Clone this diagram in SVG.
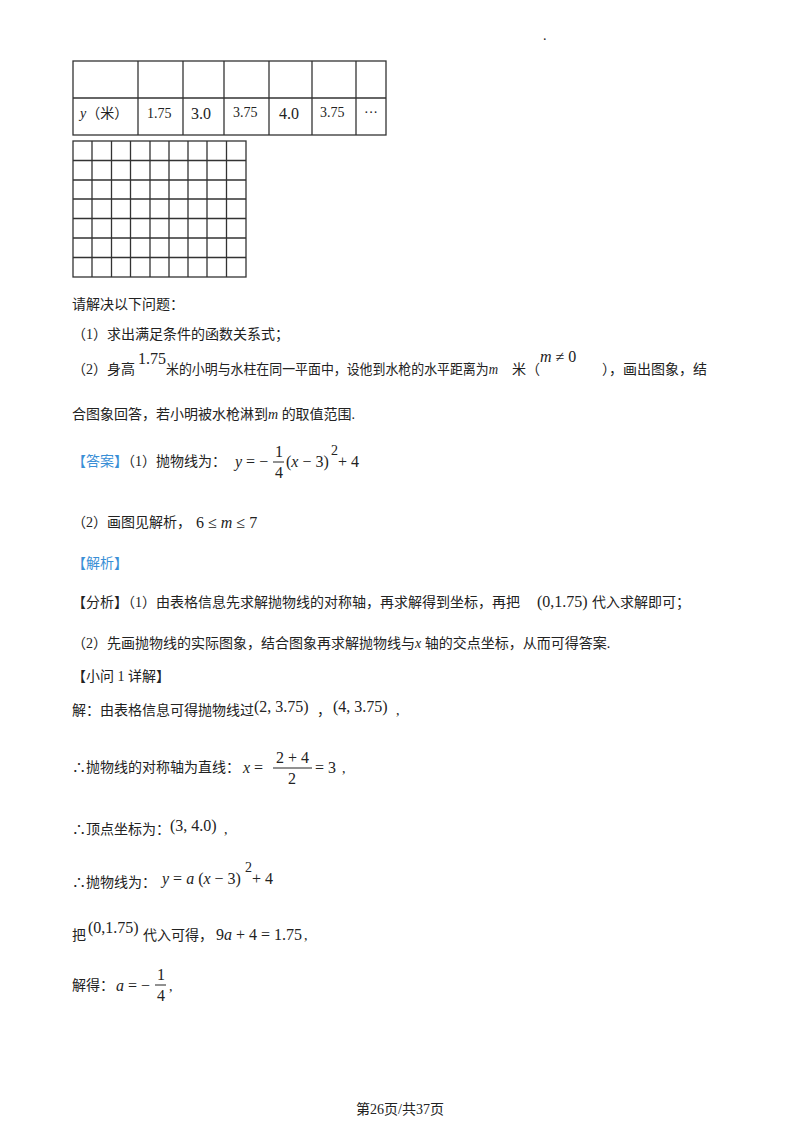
<svg xmlns="http://www.w3.org/2000/svg" width="800" height="1132" viewBox="0 0 800 1132">
<style>
.t{font-family:"Liberation Serif","Noto Sans CJK SC",serif;font-size:14px;fill:#222}
.m{font-family:"Liberation Serif",serif;font-size:16px;fill:#222}
.i{font-style:italic}
.b{fill:#3a8fd6}
.l{stroke:#333;stroke-width:1.3;fill:none}
</style>
<rect width="800" height="1132" fill="#fff"/>
<text x="543" y="40" class="t" font-size="8">.</text>
<g id="table" class="l">
<rect x="73" y="61" width="313" height="74"/>
<line x1="73" y1="98" x2="386" y2="98"/>
<line x1="138" y1="61" x2="138" y2="135"/>
<line x1="183" y1="61" x2="183" y2="135"/>
<line x1="224" y1="61" x2="224" y2="135"/>
<line x1="269" y1="61" x2="269" y2="135"/>
<line x1="312" y1="61" x2="312" y2="135"/>
<line x1="356" y1="61" x2="356" y2="135"/>
</g>
<text x="80" y="118" class="t"><tspan class="i">y</tspan>（米）</text>
<text x="147" y="118" class="t">1.75</text>
<text x="191" y="119" class="m">3.0</text>
<text x="233" y="117" class="t" font-size="13">3.75</text>
<text x="279" y="119" class="m">4.0</text>
<text x="320" y="117" class="t" font-size="13">3.75</text>
<text x="364" y="117" class="t">···</text>
<g id="grid" class="l">
<rect x="73" y="141" width="173" height="136"/>
<path d="M92 141V277M111.5 141V277M130.5 141V277M150 141V277M169 141V277M188 141V277M207 141V277M226.5 141V277"/>
<path d="M73 160.5H246M73 180H246M73 199H246M73 218.5H246M73 238H246M73 257.5H246"/>
</g>
<text x="72" y="309" class="t">请解决以下问题：</text>
<text x="72" y="339" class="t">（1）求出满足条件的函数关系式；</text>
<text x="72" y="374" class="t">（2）身高</text>
<text x="138" y="364" class="m">1.75</text>
<text x="166" y="374" class="t" textLength="332" lengthAdjust="spacingAndGlyphs">米的小明与水柱在同一平面中，设他到水枪的水平距离为<tspan class="i">m</tspan></text>
<text x="512" y="374" class="t">米（</text>
<text x="540" y="362" class="m"><tspan class="i">m</tspan> ≠ 0</text>
<text x="602" y="374" class="t">），画出图象，结</text>
<text x="72" y="419" class="t">合图象回答，若小明被水枪淋到<tspan class="i">m</tspan> 的取值范围.</text>
<text x="72" y="466" class="t"><tspan class="b">【答案】</tspan>（1）抛物线为：</text>
<text x="235" y="467" class="m"><tspan class="i">y</tspan> = −</text>
<text x="275" y="457" class="m">1</text>
<line x1="273" y1="462" x2="284" y2="462" stroke="#222"/>
<text x="275" y="478" class="m">4</text>
<text x="286" y="467" class="m">(<tspan class="i">x</tspan> − 3)</text>
<text x="331" y="455" class="t" font-size="9">2</text>
<text x="338" y="467" class="m">+ 4</text>
<text x="72" y="527" class="t">（2）画图见解析，</text>
<text x="196" y="528" class="m">6 ≤ <tspan class="i">m</tspan> ≤ 7</text>
<text x="72" y="568" class="t b">【解析】</text>
<text x="72" y="607" class="t">【分析】（1）由表格信息先求解抛物线的对称轴，再求解得到坐标，再把</text>
<text x="537" y="607" class="m">(0,1.75)</text>
<text x="592" y="607" class="t">代入求解即可；</text>
<text x="72" y="648" class="t">（2）先画抛物线的实际图象，结合图象再求解抛物线与<tspan class="i">x</tspan> 轴的交点坐标，从而可得答案.</text>
<text x="72" y="681" class="t">【小问 1 详解】</text>
<text x="72" y="715" class="t">解：由表格信息可得抛物线过</text>
<text x="254" y="712" class="m">(2, 3.75)</text>
<text x="317" y="715" class="t">，</text>
<text x="333" y="712" class="m">(4, 3.75)</text>
<text x="396" y="715" class="t">,</text>
<text x="72" y="772" class="t">∴抛物线的对称轴为直线：</text>
<text x="243" y="773" class="m"><tspan class="i">x</tspan> =</text>
<text x="276" y="763" class="m">2 + 4</text>
<line x1="273" y1="768" x2="312" y2="768" stroke="#222"/>
<text x="288" y="784" class="m">2</text>
<text x="315" y="773" class="m">= 3</text>
<text x="342" y="773" class="t">,</text>
<text x="72" y="834" class="t">∴顶点坐标为：</text>
<text x="170" y="831" class="m">(3, 4.0)</text>
<text x="224" y="834" class="t">,</text>
<text x="72" y="887" class="t">∴抛物线为：</text>
<text x="162" y="884" class="m"><tspan class="i">y</tspan> = <tspan class="i">a</tspan> (<tspan class="i">x</tspan> − 3)</text>
<text x="245" y="872" class="t" font-size="9">2</text>
<text x="252" y="884" class="m">+ 4</text>
<text x="72" y="940" class="t">把</text>
<text x="88" y="933" class="m">(0,1.75)</text>
<text x="143" y="940" class="t">代入可得，</text>
<text x="216" y="940" class="m">9<tspan class="i">a</tspan> + 4 = 1.75</text>
<text x="304" y="940" class="t">,</text>
<text x="72" y="990" class="t">解得：</text>
<text x="116" y="991" class="m"><tspan class="i">a</tspan> = −</text>
<text x="157" y="980" class="m">1</text>
<line x1="155" y1="985" x2="166" y2="985" stroke="#222"/>
<text x="157" y="1001" class="m">4</text>
<text x="169" y="991" class="t">,</text>
<text x="356" y="1114" class="t" font-size="13">第26页/共37页</text>
</svg>
